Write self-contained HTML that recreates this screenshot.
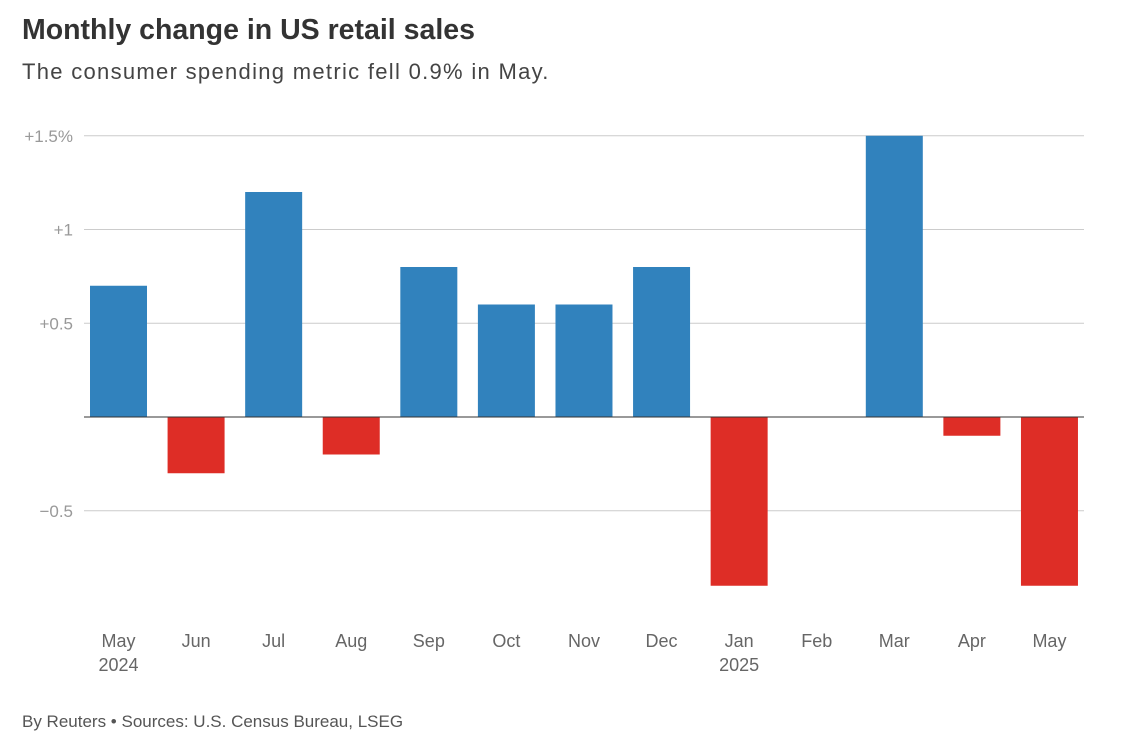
<!DOCTYPE html>
<html><head><meta charset="utf-8"><style>
body{margin:0;width:1126px;height:753px;background:#fff;font-family:"Liberation Sans",sans-serif;overflow:hidden}
.t{position:absolute;left:22px;top:14px;font-size:28.5px;font-weight:bold;color:#333}
.s{position:absolute;left:22px;top:59px;font-size:22px;letter-spacing:1.3px;color:#444}
.f{position:absolute;left:22px;top:712px;font-size:17px;color:#555}
</style></head><body>
<div class="t">Monthly change in US retail sales</div>
<div class="s">The consumer spending metric fell 0.9% in May.</div>
<svg id="c" width="1126" height="753" style="position:absolute;left:0;top:0"></svg>
<div class="f">By Reuters • Sources: U.S. Census Bureau, LSEG</div>
<script>
const months=["May","Jun","Jul","Aug","Sep","Oct","Nov","Dec","Jan","Feb","Mar","Apr","May"];
const years=["2024","","","","","","","","2025","","","",""];
const values=[0.7,-0.3,1.2,-0.2,0.8,0.6,0.6,0.8,-0.9,0,1.5,-0.1,-0.9];
const ticks=[1.5,1,0.5,-0.5];
const tickLabels=["+1.5%","+1","+0.5","\u22120.5"];
const svg=document.getElementById('c');const NS="http://www.w3.org/2000/svg";
const y=v=>417-v*187.5;const x=i=>118.5+i*77.58;
function mk(t,a){const e=document.createElementNS(NS,t);for(const k in a)e.setAttribute(k,a[k]);svg.appendChild(e);return e;}
ticks.forEach((v,i)=>{
const l=mk('line',{x1:84,x2:1084,y1:y(v),y2:y(v),stroke:'#ccc','stroke-width':1});


const t=mk('text',{x:73,y:y(v)+6,'text-anchor':'end','font-size':17,fill:'#999'});t.textContent=tickLabels[i];


});
values.forEach((v,i)=>{
const r=mk('rect',{x:x(i)-28.5,width:57,y:Math.min(y(v),y(0)),height:Math.abs(y(v)-y(0)),fill:v>=0?'#3182bd':'#de2d26'});


const t=mk('text',{x:x(i),y:647,'text-anchor':'middle','font-size':18,fill:'#666'});t.textContent=months[i];


if(years[i]){const yt=mk('text',{x:x(i),y:671,'text-anchor':'middle','font-size':18,fill:'#666'});yt.textContent=years[i];

}
});
const z=mk('line',{x1:84,x2:1084,y1:y(0),y2:y(0),stroke:'#333','stroke-width':1});


</script>
</body></html>
